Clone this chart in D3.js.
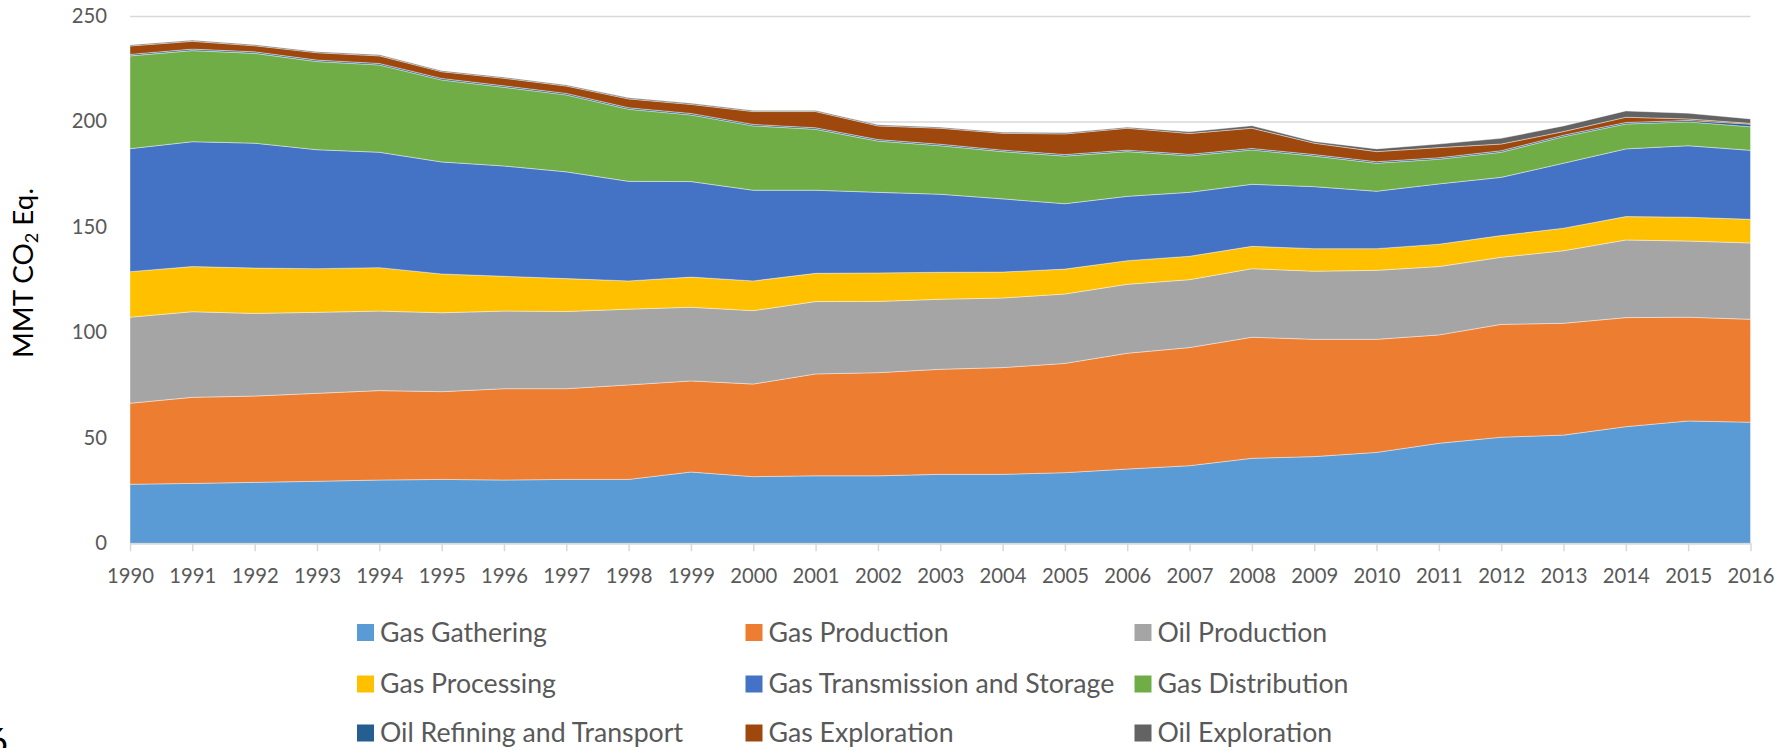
<!DOCTYPE html>
<html><head><meta charset="utf-8">
<script src="https://cdn.jsdelivr.net/npm/d3@7"></script>
<style>body{margin:0;background:#fff;overflow:hidden} svg{display:block}</style>
</head><body>
<svg id="chart" width="1782" height="748"></svg>
<script>
const years = [1990,1991,1992,1993,1994,1995,1996,1997,1998,1999,2000,2001,2002,2003,2004,2005,2006,2007,2008,2009,2010,2011,2012,2013,2014,2015,2016];
const seriesNames = ["Gas Gathering","Gas Production","Oil Production","Gas Processing","Gas Transmission and Storage","Gas Distribution","Oil Refining and Transport","Gas Exploration","Oil Exploration"];
const gasGathering   = [28.0,28.4,28.9,29.4,30.0,30.3,30.0,30.3,30.3,33.8,31.6,32.0,32.0,32.7,32.7,33.5,35.2,36.8,40.3,41.1,43.1,47.4,50.3,51.3,55.3,58.0,57.4];
const gasProduction  = [38.4,40.8,40.9,41.7,42.4,41.6,43.3,43.0,44.8,43.2,43.9,48.3,48.9,49.8,50.6,51.8,54.9,56.0,57.4,55.6,53.6,51.4,53.5,53.0,51.7,49.2,48.8];
const oilProduction  = [40.8,40.6,39.2,38.4,37.7,37.4,36.8,36.6,35.9,34.9,34.8,34.3,33.8,33.2,33.0,32.9,32.7,32.2,32.5,32.3,32.7,32.4,31.8,34.4,36.8,36.1,36.2];
const gasProcessing  = [21.6,21.4,21.5,20.7,20.6,18.4,16.5,15.6,13.4,14.3,14.1,13.4,13.5,12.8,12.3,11.8,11.2,11.1,10.6,10.7,10.3,10.6,10.3,10.7,11.1,11.3,11.2];
const gasTransmission= [58.3,59.2,59.2,56.4,54.7,53.1,52.3,50.6,47.2,45.3,43.0,39.4,38.2,37.0,34.7,31.0,30.5,30.3,29.4,29.4,27.2,28.6,27.6,30.8,32.1,33.9,32.7];
const gasDistribution= [44.0,43.2,42.6,41.8,41.4,38.9,37.3,36.5,34.2,31.6,30.5,28.9,24.3,23.0,22.4,22.6,21.2,17.3,16.3,14.5,13.3,11.7,11.9,12.6,11.8,11.3,11.2];
const oilRefining    = [0.7,0.7,0.7,0.7,0.7,0.7,0.7,0.7,0.7,0.7,0.7,0.7,0.7,0.7,0.7,0.7,0.7,0.7,0.7,0.7,0.7,0.7,0.7,0.7,0.7,0.7,1.2];
const gasExploration = [4.0,3.7,2.9,3.5,3.6,3.2,3.6,3.5,4.2,4.3,6.1,7.7,6.5,7.6,8.0,9.8,10.4,9.9,9.6,5.4,4.8,4.8,3.2,1.7,2.5,0.7,0.4];
const oilExploration = [0.5,0.5,0.5,0.5,0.5,0.5,0.5,0.5,0.5,0.5,0.5,0.5,0.5,0.5,0.5,0.5,0.5,0.8,1.2,0.8,1.3,1.7,2.7,2.7,3.0,2.7,2.1];
const seriesColors = ["#5B9BD5","#ED7D31","#A5A5A5","#FFC000","#4472C4","#70AD47","#255E91","#9E480E","#636363"];
const yTicks = [0,50,100,150,200,250];
const yTitle = ["MMT CO", "2", " Eq."];

const seriesValues = [gasGathering,gasProduction,oilProduction,gasProcessing,gasTransmission,gasDistribution,oilRefining,gasExploration,oilExploration];
const table = years.map((yr,i)=>{const r={year:yr}; seriesNames.forEach((n,k)=>r[n]=seriesValues[k][i]); return r;});

const svg = d3.select('#chart');
const FONT = 'Lato, "Open Sans", sans-serif';
const plotL = 130, plotR = 1750.5, plotT = 16, plotB = 543.3;
const x = d3.scalePoint().domain(years).range([plotL, plotR]);
const y = d3.scaleLinear().domain([0,250]).range([plotB, plotT]);

function fitSize(build, target){
  const t = svg.append('text').attr('font-family',FONT).attr('font-size',100);
  build(t);
  const w = t.node().getBBox().width; t.remove();
  return 100*target/w;
}
const tickFs = fitSize(t=>t.text('1990'), 47);
const legFs = fitSize(t=>t.text('Gas Gathering'), 167);
const titleFs = fitSize(t=>{t.append('tspan').text(yTitle[0]); t.append('tspan').attr('font-size',65).attr('dy',18).text(yTitle[1]); t.append('tspan').attr('dy',-18).text(yTitle[2]);}, 170);

// gridlines + y labels
const yAxis = svg.append('g').attr('transform',`translate(${plotL},0)`)
  .call(d3.axisLeft(y).tickValues(yTicks).tickSize(-(plotR-plotL)).tickPadding(23).tickFormat(d3.format('d')));
yAxis.select('.domain').remove();
yAxis.selectAll('line').attr('stroke','#d9d9d9').attr('stroke-width',1.5);
yAxis.selectAll('text').attr('fill','#595959').attr('font-family',FONT).attr('font-size',tickFs);

// areas
const stacked = d3.stack().keys(seriesNames)(table);
const area = d3.area().x(d=>x(d.data.year)).y0(d=>y(d[0])).y1(d=>y(d[1]));
svg.append('g').selectAll('path').data(stacked).join('path')
  .attr('d',area).attr('fill',(d,i)=>seriesColors[i])
  .attr('stroke','#ffffff').attr('stroke-opacity',0.45).attr('stroke-width',0.9);

// x axis
const xAxis = svg.append('g').attr('transform',`translate(0,${plotB})`)
  .call(d3.axisBottom(x).tickSize(8).tickSizeOuter(0).tickPadding(17));
xAxis.select('.domain').attr('stroke','#d9d9d9').attr('stroke-width',1.5);
xAxis.selectAll('line').attr('stroke','#d9d9d9').attr('stroke-width',1.5);
xAxis.selectAll('text').attr('fill','#595959').attr('font-family',FONT).attr('font-size',tickFs);

// y title
const tt = svg.append('text').attr('font-family',FONT).attr('font-size',titleFs).attr('fill','#000')
  .attr('text-anchor','middle').attr('transform','translate(33,273) rotate(-90)');
tt.append('tspan').text(yTitle[0]);
tt.append('tspan').attr('font-size',titleFs*0.65).attr('dy',titleFs*0.18).text(yTitle[1]);
tt.append('tspan').attr('dy',-titleFs*0.18).text(yTitle[2]);

// legend
const colX = [357, 745.5, 1134.5], rowY = [632.5, 684, 733];
const leg = svg.append('g');
seriesNames.forEach((n,i)=>{
  const cx = colX[i%3], cy = rowY[Math.floor(i/3)];
  leg.append('rect').attr('x',cx).attr('y',cy-8.5).attr('width',17).attr('height',17).attr('fill',seriesColors[i]);
  leg.append('text').attr('x',cx+23).attr('y',cy+legFs*0.355).attr('font-family',FONT).attr('font-size',legFs).attr('fill','#595959').text(n);
});

// stray page number fragment
svg.append('text').attr('x',-13).attr('y',754).attr('font-family',FONT).attr('font-size',36).attr('fill','#000').text('6');
</script>
</body></html>
